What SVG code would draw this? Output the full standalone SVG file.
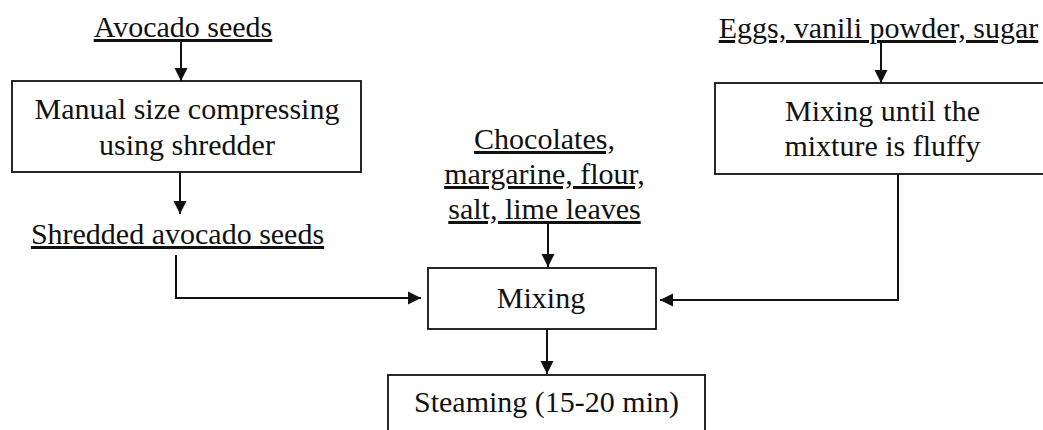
<svg xmlns="http://www.w3.org/2000/svg" width="1043" height="430" viewBox="0 0 1043 430">
  <style>
    .t { font-family: "Liberation Serif", "Times New Roman", serif; font-size: 30px; fill: #111; text-anchor: middle; }
    .u { text-decoration: underline; }
    .box { fill: #fff; stroke: #111; stroke-width: 1.8; }
    .c { fill: none; stroke: #111; stroke-width: 2; }
  </style>
  <defs>
    <marker id="ah" markerUnits="userSpaceOnUse" markerWidth="14" markerHeight="14" refX="13" refY="6.5" orient="auto" viewBox="0 0 14 13">
      <path d="M0,0 L13,6.5 L0,13 Z" fill="#111"/>
    </marker>
  </defs>
  <rect width="1043" height="430" fill="#fff"/>

  <g id="avocado-seeds">
    <text class="t u" x="183" y="37">Avocado seeds</text>
  </g>
  <g id="manual-size-compressing">
    <rect class="box" x="12" y="81" width="349" height="91"/>
    <text class="t" x="187" y="119">Manual size compressing</text>
    <text class="t" x="187" y="155">using shredder</text>
  </g>
  <g id="shredded-avocado-seeds">
    <text class="t u" x="177.5" y="244">Shredded avocado seeds</text>
  </g>
  <g id="chocolates">
    <text class="t u" x="544.5" y="149">Chocolates,</text>
    <text class="t u" x="544.5" y="184">margarine, flour,</text>
    <text class="t u" x="544.5" y="219">salt, lime leaves</text>
  </g>
  <g id="eggs">
    <text class="t u" x="878.5" y="38">Eggs, vanili powder, sugar</text>
  </g>
  <g id="mixing-fluffy">
    <rect class="box" x="715" y="83" width="340" height="91"/>
    <text class="t" x="882.5" y="121">Mixing until the</text>
    <text class="t" x="882.5" y="156">mixture is fluffy</text>
  </g>
  <g id="mixing">
    <rect class="box" x="428" y="268" width="228" height="61"/>
    <text class="t" x="541" y="308">Mixing</text>
  </g>
  <g id="steaming">
    <rect class="box" x="388" y="375" width="317" height="70"/>
    <text class="t" x="546.5" y="412">Steaming (15-20 min)</text>
  </g>

  <g id="connectors">
    <path class="c" d="M181,42 V81" marker-end="url(#ah)"/>
    <path class="c" d="M180,172 V214" marker-end="url(#ah)"/>
    <path class="c" d="M176,255 V298 H421" marker-end="url(#ah)"/>
    <path class="c" d="M548,223 V267" marker-end="url(#ah)"/>
    <path class="c" d="M881,43 V83" marker-end="url(#ah)"/>
    <path class="c" d="M898,174 V300 H660" marker-end="url(#ah)"/>
    <path class="c" d="M547,329 V374" marker-end="url(#ah)"/>
  </g>
</svg>
